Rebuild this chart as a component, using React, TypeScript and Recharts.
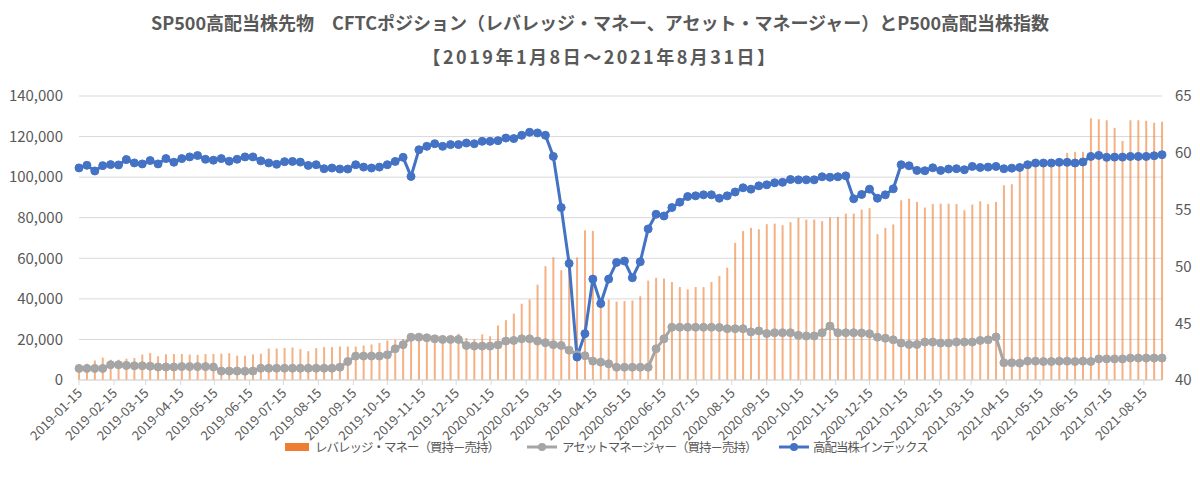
import React from "react";
import { ComposedChart, Bar, Line, XAxis, YAxis, CartesianGrid } from "recharts";

// weekly CFTC data, first point 2019-01-15
const START = Date.UTC(2019, 0, 15);
const WEEK = 7 * 86400000;

const leveraged = [
  7500, 8000, 9600, 11000, 10000, 10000, 10500, 10800, 12500, 13300,
  11700, 12700, 12800, 12800, 12500, 12400, 12800, 12800, 13000, 13200,
  12000, 12000, 12600, 13000, 15500, 15500, 15800, 16000, 15200, 14200,
  15700, 16200, 16200, 16500, 16500, 16500, 17000, 17500, 18300, 19500,
  19800, 20200, 20500, 21000, 21000, 20800, 21000, 21500, 22800, 20700,
  20000, 22500, 21600, 26900, 29500, 32700, 37600, 39700, 47000, 56100,
  60500, 54100, 60400, 60400, 73800, 73500, 38500, 39700, 38600, 38900,
  39200, 41300, 49000, 50400, 50000, 48300, 45800, 44700, 45800, 45800,
  48300, 51300, 55400, 67600, 73400, 75000, 74300, 76800, 77100, 76300,
  77800, 79900, 79100, 79100, 78300, 80200, 80400, 82000, 82000, 84000,
  84700, 71900, 75000, 76700, 88600, 89400, 87800, 85000, 86800, 86900,
  86900, 86700, 83700, 86500, 88100, 86700, 87800, 96000, 96500, 104000,
  104200, 105000, 105400, 105700, 105700, 112000, 112500, 112500, 129000, 128600,
  128100, 124300, 117800, 128100, 128100, 127800, 126800, 127300,
];

const assetManager = [
  5700, 5700, 5700, 5700, 7500, 7500, 7200, 7000, 7000, 6800,
  6400, 6400, 6400, 6600, 6600, 6600, 6600, 6400, 4400, 4400,
  4400, 4300, 4400, 5800, 5800, 5800, 5800, 5800, 5800, 5800,
  5800, 5800, 5800, 6300, 9100, 11800, 11800, 11800, 11800, 12400,
  15400, 17400, 21100, 21100, 20800, 20300, 20000, 20000, 20000, 17000,
  16700, 16700, 16700, 17300, 19200, 19500, 20300, 20300, 19200, 18400,
  17400, 17000, 14700, 12500, 12000, 9300, 8800, 8000, 6300, 6300,
  6300, 6300, 6300, 15400, 20300, 26000, 26000, 26000, 26000, 26000,
  26000, 25900, 25300, 25300, 25300, 23700, 24200, 22900, 23300, 23300,
  23300, 22000, 21700, 21700, 23300, 26600, 23300, 23300, 23300, 23200,
  22800, 21100, 20600, 19800, 18200, 17500, 17500, 18700, 18700, 18200,
  18200, 18700, 18700, 18700, 19500, 19800, 21200, 8500, 8500, 8300,
  9300, 9300, 9100, 9100, 9300, 9300, 9100, 9300, 9100, 10400,
  10400, 10400, 10400, 10800, 10800, 10800, 10800, 10800,
];

const highDivIndex = [
  58.67, 58.9, 58.4, 58.87, 58.96, 58.93, 59.4, 59.11, 59.02, 59.32,
  59.02, 59.49, 59.17, 59.49, 59.64, 59.76, 59.43, 59.35, 59.49, 59.26,
  59.43, 59.64, 59.64, 59.29, 59.11, 58.99, 59.22, 59.24, 59.18, 58.89,
  58.95, 58.6, 58.66, 58.57, 58.57, 58.95, 58.74, 58.66, 58.74, 58.95,
  59.24, 59.6, 57.92, 60.27, 60.57, 60.8, 60.57, 60.72, 60.72, 60.86,
  60.8, 61.01, 61.01, 61.07, 61.3, 61.25, 61.54, 61.81, 61.75, 61.54,
  59.68, 55.18, 50.26, 42.02, 44.08, 48.88, 46.73, 48.88, 50.35, 50.47,
  49.0, 50.41, 53.3, 54.59, 54.44, 55.18, 55.65, 56.15, 56.21, 56.3,
  56.3, 56.0, 56.21, 56.55, 56.92, 56.8, 57.09, 57.18, 57.36, 57.4,
  57.65, 57.62, 57.62, 57.62, 57.89, 57.85, 57.89, 57.97, 55.95, 56.33,
  56.8, 56.0, 56.3, 56.83, 58.95, 58.86, 58.45, 58.42, 58.68, 58.45,
  58.57, 58.6, 58.51, 58.8, 58.71, 58.74, 58.8, 58.6, 58.65, 58.71,
  58.95, 59.1, 59.1, 59.1, 59.16, 59.16, 59.1, 59.19, 59.68, 59.77,
  59.6, 59.62, 59.62, 59.68, 59.68, 59.68, 59.74, 59.83,
];

const tickLabels = [
  "2019-01-15", "2019-02-15", "2019-03-15", "2019-04-15", "2019-05-15", "2019-06-15",
  "2019-07-15", "2019-08-15", "2019-09-15", "2019-10-15", "2019-11-15", "2019-12-15",
  "2020-01-15", "2020-02-15", "2020-03-15", "2020-04-15", "2020-05-15", "2020-06-15",
  "2020-07-15", "2020-08-15", "2020-09-15", "2020-10-15", "2020-11-15", "2020-12-15",
  "2021-01-15", "2021-02-15", "2021-03-15", "2021-04-15", "2021-05-15", "2021-06-15",
  "2021-07-15", "2021-08-15",
];

const leftTicks = [0, 20000, 40000, 60000, 80000, 100000, 120000, 140000];
const rightTicks = [40, 45, 50, 55, 60, 65];

const data = leveraged.map((v, i) => ({
  t: START + i * WEEK,
  lev: v,
  am: assetManager[i],
  idx: highDivIndex[i],
}));

const xTicks = tickLabels.map((s) => Date.parse(s));
const fmtDate = (t: number) => new Date(t).toISOString().slice(0, 10);

const FONT = '"Noto Sans CJK JP", "Noto Sans", sans-serif';
const TEXT = "#595959";
const GRID = "#D9D9D9";
const ORANGE = "#ED7D31";
const GRAY = "#A5A5A5";
const BLUE = "#4472C4";

const DateTick = ({ x, y, payload }: any) => (
  <text
    x={x + 4}
    y={y + 7}
    transform={`rotate(-45, ${x + 4}, ${y + 7})`}
    textAnchor="end"
    fill={TEXT}
    fontSize={13}
    fontFamily={FONT}
  >
    {fmtDate(payload.value)}
  </text>
);

const ChartLegend = () => (
  <svg width={1200} height={30} style={{ position: "absolute", left: 0, top: 433 }}>
    <g fontFamily={FONT} fontSize={12.5} fill={TEXT} letterSpacing={-1}>
      <rect x={285} y={10} width={24} height={8} fill={ORANGE} />
      <text x={315} y={18.5}>レバレッジ・マネー（買持－売持）</text>
      <line x1={527} x2={557} y1={14} y2={14} stroke={GRAY} strokeWidth={3} />
      <circle cx={542} cy={14} r={4} fill={GRAY} />
      <text x={562} y={18.5}>アセットマネージャー（買持－売持）</text>
      <line x1={779} x2={809} y1={14} y2={14} stroke={BLUE} strokeWidth={3} />
      <circle cx={794} cy={14} r={4} fill={BLUE} />
      <text x={813} y={18.5}>高配当株インデックス</text>
    </g>
  </svg>
);

export default function App() {
  return (
    <div style={{ position: "absolute", left: 0, top: 0, width: 1200, height: 497, background: "#fff", fontFamily: FONT }}>
      <div style={{ position: "absolute", left: 0, top: 9, width: 1200, textAlign: "center", color: TEXT, fontWeight: 700, fontSize: 18, lineHeight: "26px" }}>
        SP500高配当株先物　CFTCポジション（レバレッジ・マネー、アセット・マネージャー）とP500高配当株指数
      </div>
      <div style={{ position: "absolute", left: 0, top: 43, width: 1200, textAlign: "center", color: TEXT, fontWeight: 700, fontSize: 18, lineHeight: "26px", letterSpacing: 2.5 }}>
        【2019年1月8日～2021年8月31日】
      </div>
      <div style={{ position: "absolute", left: 0, top: 0 }}>
        <ComposedChart width={1200} height={497} data={data} margin={{ top: 96, right: 0, bottom: 0, left: 8 }}>
          <CartesianGrid yAxisId="left" vertical={false} stroke={GRID} strokeWidth={1} />
          <XAxis
            dataKey="t"
            type="number"
            scale="linear"
            domain={[data[0].t, data[data.length - 1].t]}
            ticks={xTicks}
            interval={0}
            height={117}
            tick={<DateTick />}
            tickSize={5}
            tickMargin={2}
            axisLine={{ stroke: GRID }}
            tickLine={{ stroke: GRID }}
          />
          <YAxis
            yAxisId="left"
            width={71}
            domain={[0, 140000]}
            ticks={leftTicks}
            tickFormatter={(v: number) => v.toLocaleString("en-US")}
            axisLine={false}
            tickLine={false}
            tickSize={0}
            tickMargin={16}
            tick={{ fill: TEXT, fontSize: 15, fontFamily: FONT }}
          />
          <YAxis
            yAxisId="right"
            orientation="right"
            width={38}
            domain={[40, 65]}
            ticks={rightTicks}
            axisLine={false}
            tickLine={false}
            tickSize={0}
            tickMargin={13}
            tick={{ fill: TEXT, fontSize: 15, fontFamily: FONT, textAnchor: "start" }}
          />
          <Bar yAxisId="left" dataKey="lev" barSize={2} fill={ORANGE} fillOpacity={0.6} isAnimationActive={false} />
          <Line
            yAxisId="left"
            dataKey="am"
            stroke={GRAY}
            strokeWidth={3}
            dot={{ r: 4, fill: GRAY, stroke: GRAY, strokeWidth: 1 }}
            activeDot={false}
            isAnimationActive={false}
          />
          <Line
            yAxisId="right"
            dataKey="idx"
            stroke={BLUE}
            strokeWidth={3}
            dot={{ r: 4, fill: BLUE, stroke: BLUE, strokeWidth: 1 }}
            activeDot={false}
            isAnimationActive={false}
          />
        </ComposedChart>
      </div>
      <ChartLegend />
    </div>
  );
}
